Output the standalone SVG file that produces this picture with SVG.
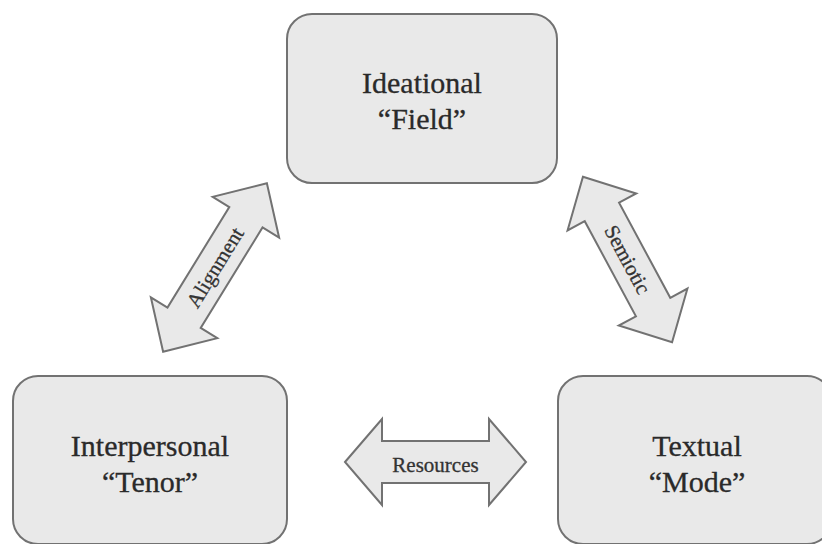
<svg xmlns="http://www.w3.org/2000/svg" width="822" height="544" viewBox="0 0 822 544">
  <style>
    .box { fill: #e9e9e9; stroke: #727272; stroke-width: 2; }
    .arrow { fill: #e9e9e9; stroke: #727272; stroke-width: 2; stroke-linejoin: miter; }
    .lbl { font-family: "Liberation Serif", "Times New Roman", serif; font-size: 30px; fill: #2a2a2a; stroke: #2a2a2a; stroke-width: 0.3; text-anchor: middle; }
    .albl { font-family: "Liberation Serif", "Times New Roman", serif; font-size: 21px; fill: #333333; stroke: #333333; stroke-width: 0.3; text-anchor: middle; }
  </style>
  <rect width="822" height="544" fill="#ffffff"/>
  <g id="connectors">
    <g id="alignment" transform="translate(215,267.5) rotate(-58.4)">
      <path class="arrow" d="M -99,0 L -59,-39 L -59,-19.5 L 59,-19.5 L 59,-39 L 99,0 L 59,39 L 59,19.5 L -59,19.5 L -59,39 Z"/>
      <text class="albl" x="0" y="7">Alignment</text>
    </g>
    <g id="semiotic" transform="translate(627.5,259.5) rotate(61.7)">
      <path class="arrow" d="M -94,0 L -54,-39 L -54,-19.5 L 54,-19.5 L 54,-39 L 94,0 L 54,39 L 54,19.5 L -54,19.5 L -54,39 Z"/>
      <text class="albl" x="0" y="7">Semiotic</text>
    </g>
    <g id="resources" transform="translate(435.5,462)">
      <path class="arrow" d="M -90.5,0 L -53.5,-43 L -53.5,-21 L 53.5,-21 L 53.5,-43 L 90.5,0 L 53.5,43 L 53.5,21 L -53.5,21 L -53.5,43 Z"/>
      <text class="albl" x="0" y="10">Resources</text>
    </g>
  </g>
  <g id="ideational">
    <rect class="box" x="287" y="14" width="270" height="169" rx="25" ry="25"/>
    <text class="lbl" x="422" y="93">Ideational</text>
    <text class="lbl" x="422" y="129">“Field”</text>
  </g>
  <g id="interpersonal">
    <rect class="box" x="13" y="376" width="274" height="168" rx="25" ry="25"/>
    <text class="lbl" x="150" y="456">Interpersonal</text>
    <text class="lbl" x="150" y="492">“Tenor”</text>
  </g>
  <g id="textual">
    <rect class="box" x="558" y="376" width="274" height="168" rx="25" ry="25"/>
    <text class="lbl" x="697" y="456">Textual</text>
    <text class="lbl" x="697" y="492">“Mode”</text>
  </g>
</svg>
